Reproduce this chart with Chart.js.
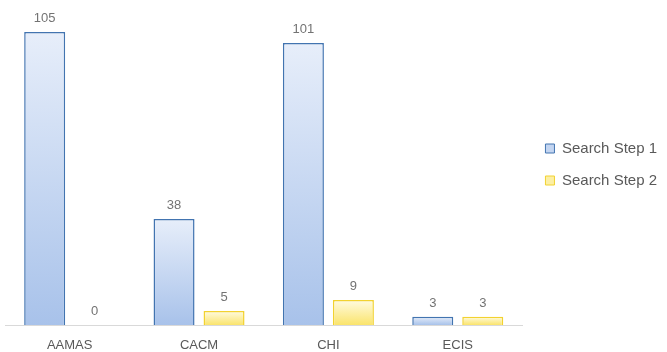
<!DOCTYPE html>
<html>
<head>
<meta charset="utf-8">
<script src="https://cdn.jsdelivr.net/npm/chart.js@4/dist/chart.umd.min.js"></script>
<style>
  html, body { margin: 0; padding: 0; background: #fff; }
  #wrap { width: 667px; height: 352px; }
</style>
</head>
<body>
<div id="wrap"><canvas id="myChart"></canvas></div>
<script>
const venues = ['AAMAS', 'CACM', 'CHI', 'ECIS'];
const step1 = [105, 38, 101, 3];
const step2 = [0, 5, 9, 3];

// vertical gradient for each bar, light at top
const barGradient = (top, bottom) => (context) => {
  const chart = context.chart;
  const yScale = chart.scales.y;
  if (!yScale || context.raw === undefined) return bottom;
  const y0 = yScale.getPixelForValue(context.raw);
  const y1 = yScale.getPixelForValue(0);
  if (Math.abs(y1 - y0) < 1) return bottom;
  const g = chart.ctx.createLinearGradient(0, y0, 0, y1);
  g.addColorStop(0, top);
  g.addColorStop(1, bottom);
  return g;
};

// numbers above the bars
const valueLabels = {
  id: 'valueLabels',
  afterDatasetsDraw(chart) {
    const ctx = chart.ctx;
    ctx.save();
    ctx.font = '13px "Liberation Sans", Arial, sans-serif';
    ctx.fillStyle = '#737373';
    ctx.textAlign = 'center';
    ctx.textBaseline = 'bottom';
    chart.data.datasets.forEach((ds, i) => {
      chart.getDatasetMeta(i).data.forEach((bar, j) => {
        ctx.fillText(String(ds.data[j]), bar.x, bar.y - 7);
      });
    });
    ctx.restore();
  }
};

const ctx = document.getElementById('myChart').getContext('2d');

const myChart = new Chart(ctx, {
  type: 'bar',
  data: {
    labels: venues,
    datasets: [{
      label: 'Search Step 1',
      data: step1,
      backgroundColor: barGradient('#e7eefa', '#a8c2ea'),
      borderColor: '#4274b0',
      borderWidth: (c) => c.raw === 0 ? 0 : 1.5,
      borderSkipped: 'bottom'
    }, {
      label: 'Search Step 2',
      data: step2,
      backgroundColor: barGradient('#fffbe2', '#fae46c'),
      borderColor: '#f2d230',
      borderWidth: (c) => c.raw === 0 ? 0 : 1.5,
      borderSkipped: 'bottom'
    }]
  },
  options: {
    responsive: true,
    maintainAspectRatio: false,
    animation: false,
    categoryPercentage: 0.773,
    barPercentage: 0.82,
    layout: {
      padding: { top: 4, left: 5, right: 0, bottom: 0 }
    },
    scales: {
      x: {
        grid: { display: false, drawTicks: false },
        border: { display: true, color: '#d9d9d9', width: 1 },
        ticks: {
          color: '#595959',
          padding: 13,
          font: { family: '"Liberation Sans", Arial, sans-serif', size: 13 }
        },
        afterFit: (scale) => { scale.height = 27; }
      },
      y: {
        position: 'right',
        min: 0,
        max: 115,
        grid: { display: false },
        border: { display: false },
        ticks: { display: false },
        afterFit: (scale) => { scale.width = 6; }
      }
    },
    plugins: {
      legend: {
        position: 'right',
        fullSize: false,
        labels: {
          boxWidth: 9,
          boxHeight: 9,
          padding: 17,
          color: '#595959',
          font: { family: '"Liberation Sans", Arial, sans-serif', size: 15 },
          generateLabels: (chart) => chart.data.datasets.map((ds, i) => ({
            text: ds.label,
            fillStyle: i === 0 ? '#c3d5f1' : '#fcefa4',
            strokeStyle: ds.borderColor,
            fontColor: '#595959',
            lineWidth: 1,
            datasetIndex: i
          }))
        }
      },
      tooltip: { enabled: false }
    }
  },
  plugins: [valueLabels]
});
</script>
</body>
</html>
